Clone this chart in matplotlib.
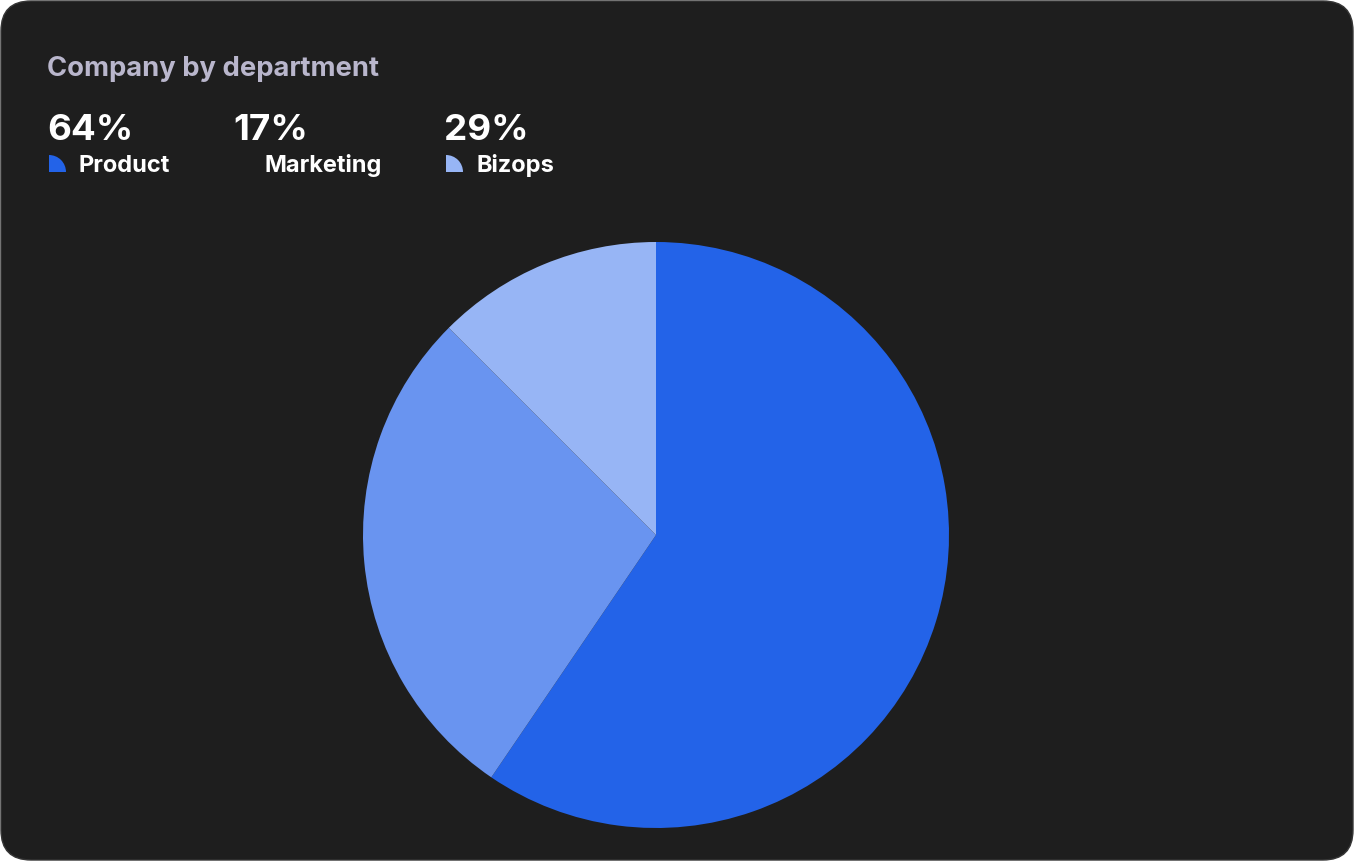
import numpy as np
import matplotlib
matplotlib.use('Agg')
import matplotlib.pyplot as plt
from matplotlib.patches import FancyBboxPatch, Wedge

plt.rcParams['font.family'] = ['Inter', 'DejaVu Sans']

# data
departments = ['Product', 'Marketing', 'Bizops']
label_pcts = ['64%', '17%', '29%']
slice_shares = [59.5, 28.0, 12.5]
colors = ['#2363E8', '#6994F0', '#97B5F5']
icon_colors = ['#2363E8', None, '#97B5F5']

W, H = 1354, 861
fig = plt.figure(figsize=(W / 100, H / 100), dpi=100, facecolor='white')

# background card, pixel coordinates (y measured from top)
bg = fig.add_axes([0, 0, 1, 1])
bg.set_xlim(0, W)
bg.set_ylim(0, H)
bg.axis('off')
card = FancyBboxPatch((1, 1), W - 2, H - 2, boxstyle='round,pad=0,rounding_size=30',
                      facecolor='#1E1E1E', edgecolor='#363636', linewidth=1.0)
bg.add_patch(card)

def py(y):
    return H - y

bg.text(47, py(76), 'Company by department', color='#B9B6CC', fontsize=19.7,
        fontweight='bold', va='baseline', ha='left')

pct_x = [47, 233, 444]
lab_x = [78, 265, 476]
icon_x = [49, 235, 446]
for i, dep in enumerate(departments):
    bg.text(pct_x[i], py(140), label_pcts[i], color='white', fontsize=26.5,
            fontweight='bold', va='baseline', ha='left')
    bg.text(lab_x[i], py(172), dep, color='white', fontsize=17,
            fontweight='bold', va='baseline', ha='left')
    if icon_colors[i] is not None:
        bg.add_patch(Wedge((icon_x[i], py(172)), 17, 0, 90, facecolor=icon_colors[i],
                           edgecolor='none'))

# pie
cx, cy, r = 656, 535, 293
ax = fig.add_axes([(cx - r) / W, (H - cy - r) / H, 2 * r / W, 2 * r / H])
ax.pie(slice_shares, colors=colors, startangle=90, counterclock=False,
       wedgeprops=dict(linewidth=0))
ax.set_xlim(-1, 1)
ax.set_ylim(-1, 1)
ax.set_aspect('equal')
ax.axis('off')

fig.savefig('out.png', dpi=100, facecolor='white')
